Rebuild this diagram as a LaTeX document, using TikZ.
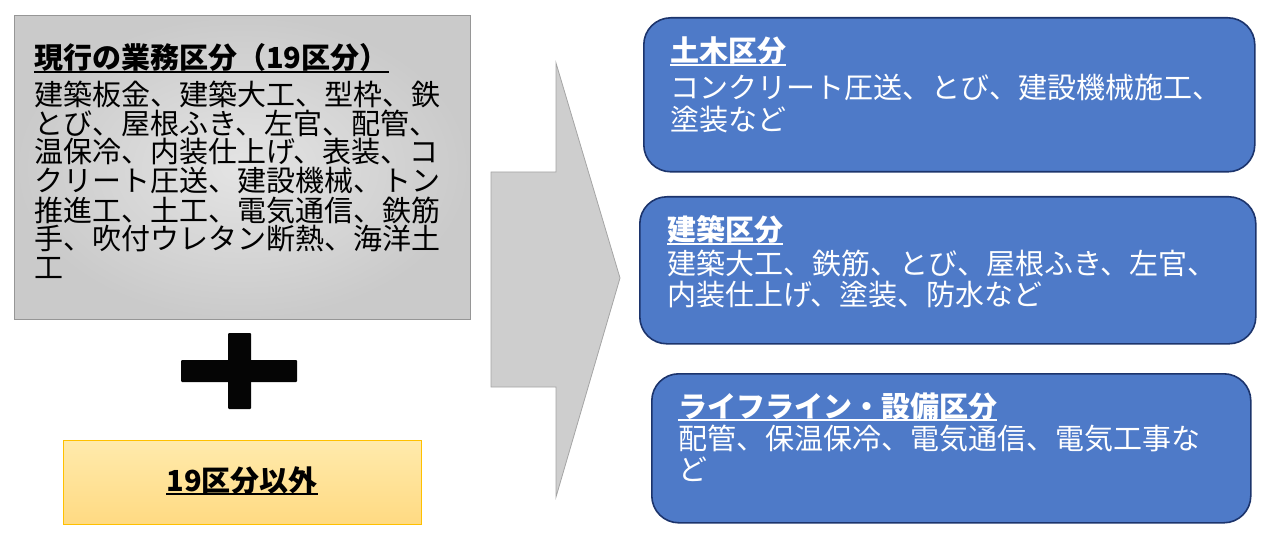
\documentclass[tikz,border=0pt]{standalone}
\usepackage{fontspec}
\setmainfont{Noto Sans CJK JP}
\definecolor{boxblue}{RGB}{78,122,200}
\definecolor{boxedge}{RGB}{28,52,108}
\definecolor{arrowfill}{RGB}{206,206,206}
\definecolor{arrowedge}{RGB}{165,165,165}
\definecolor{yeltop}{RGB}{255,234,172}
\definecolor{yelbot}{RGB}{255,218,130}
\definecolor{yeledge}{RGB}{255,192,0}
\definecolor{grayedge}{RGB}{150,150,150}
\definecolor{grayin}{RGB}{228,228,228}
\definecolor{grayout}{RGB}{202,202,202}
\newcommand\ulx[1]{\setbox0\hbox{#1}\rlap{\rule[-3.6pt]{\wd0}{1.7pt}}\box0}
\begin{document}
\begin{tikzpicture}[x=1pt,y=-1pt,
  graybox/.style={draw=grayedge, line width=0.8pt, inner color=grayin, outer color=grayout, anchor=north west, inner sep=0pt},
  yelbox/.style={draw=yeledge, line width=1.4pt, top color=yeltop, bottom color=yelbot, anchor=north west, inner sep=0pt},
  bluebox/.style={draw=boxedge, line width=1.6pt, fill=boxblue, rounded corners=27pt, anchor=north west, inner sep=0pt},
  arrowshape/.style={draw=arrowedge, line width=0.8pt, fill=arrowfill},
  plusbar/.style={fill=black!98, rounded corners=1pt},
  txt/.style={inner sep=0pt, anchor=base west, align=left, font=\fontsize{29}{29}\selectfont},
  wtxt/.style={txt, text=white, font=\fontsize{29}{31.5}\selectfont}]
\useasboundingbox (0,0) rectangle (1272,540);
% left gray box
\node[graybox, minimum width=456pt, minimum height=304pt] (cur) at (14,15) {};
\node[txt] (curT) at (34,69) {\bfseries\ulx{現行の業務区分（19区分）}};
% anchor = baseline of the last line
\node[txt] (curB) at (34,279) {建築板金、建築大工、型枠、鉄\\とび、屋根ふき、左官、配管、\\温保冷、内装仕上げ、表装、コ\\クリート圧送、建設機械、トン\\推進工、土工、電気通信、鉄筋\\手、吹付ウレタン断熱、海洋土\\工};
% plus
\fill[plusbar] (181,360) rectangle (297,382);
\fill[plusbar] (228,333) rectangle (251,409);
% yellow box
\node[yelbox, minimum width=358pt, minimum height=84pt] (other) at (63,440) {};
\node[txt, anchor=base] (otherT) at (242,491) {\bfseries\ulx{19区分以外}};
% arrow
\draw[arrowshape] (491,172) -- (556,172) -- (556,63) -- (620,278) -- (556,497) -- (556,387) -- (491,387) -- cycle;
% blue boxes
\node[bluebox, minimum width=611pt, minimum height=154pt] (civil) at (643,17) {};
\node[wtxt] (civilT) at (670,62) {\bfseries\ulx{土木区分}};
\node[wtxt] (civilB) at (670,130.5) {コンクリート圧送、とび、建設機械施工、\\塗装など};
\node[bluebox, minimum width=616pt, minimum height=147pt] (arch) at (639,196) {};
\node[wtxt] (archT) at (667,241) {\bfseries\ulx{建築区分}};
\node[wtxt] (archB) at (667,305.5) {建築大工、鉄筋、とび、屋根ふき、左官、\\内装仕上げ、塗装、防水など};
\node[bluebox, minimum width=599pt, minimum height=149pt] (life) at (651,373) {};
\node[wtxt] (lifeT) at (678,417) {\bfseries\ulx{ライフライン・設備区分}};
\node[wtxt] (lifeB) at (678,480.5) {配管、保温保冷、電気通信、電気工事な\\ど};
\end{tikzpicture}
\end{document}
